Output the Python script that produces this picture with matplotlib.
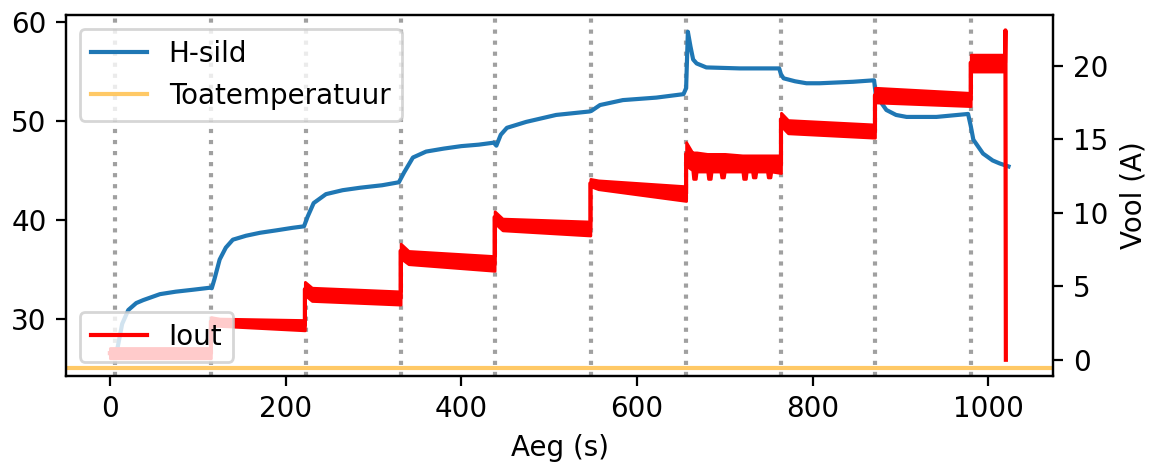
import numpy as np
import matplotlib.pyplot as plt

# temperatuur (H-sild)
aeg_h = [6, 9, 14, 21, 30, 38, 57, 75, 95, 114, 116, 119, 125, 132, 140, 155, 171, 190, 208, 221,
         225, 232, 246, 265, 285, 310, 329, 335, 345, 360, 380, 400, 420, 437, 440, 445, 452,
         474, 508, 546, 548, 558, 584, 622, 653, 656, 658, 661, 664, 668, 679, 717, 762, 764,
         767, 780, 793, 808, 846, 870, 872, 884, 895, 907, 941, 977, 980, 983, 994, 1005, 1013, 1023]
T_h = [26.3, 27.2, 29.5, 30.9, 31.6, 31.9, 32.5, 32.75, 32.95, 33.15, 33.1, 34.0, 36.0, 37.2, 38.0,
       38.4, 38.7, 38.95, 39.2, 39.35, 40.3, 41.7, 42.6, 43.0, 43.25, 43.5, 43.8, 44.8, 46.3, 46.9,
       47.2, 47.45, 47.6, 47.8, 47.5, 48.6, 49.3, 49.9, 50.6, 50.95, 51.0, 51.6, 52.1, 52.35, 52.7,
       53.3, 59.0, 57.5, 56.2, 55.8, 55.4, 55.3, 55.3, 54.7, 54.3, 54.0, 53.8, 53.8, 53.95, 54.1,
       52.6, 51.1, 50.6, 50.4, 50.4, 50.7, 49.5, 48.1, 46.7, 46.0, 45.7, 45.4]
T_toa = 25

# vool: keskmine ja müra ülemine/alumine piir
aeg_i = [0, 115,
         115, 125, 222,
         222, 230, 331,
         331, 340, 438,
         438, 447, 547,
         547, 556, 656,
         656, 663, 664, 667, 668, 680, 681, 684, 685, 695, 696, 699, 700,
         720, 721, 724, 725, 731, 732, 735, 736, 748, 749, 752, 753, 764,
         764, 772, 871,
         871, 980,
         980, 1019]
I_lo = [0.1, 0.1,
        2.3, 2.3, 2.0,
        4.4, 4.0, 3.75,
        6.9, 6.5, 6.05,
        9.3, 8.8, 8.45,
        11.8, 11.6, 10.8,
        13.2, 12.9, 12.3, 12.3, 12.8, 12.8, 12.3, 12.3, 12.8, 12.8, 12.4, 12.4, 12.8,
        12.8, 12.3, 12.3, 12.8, 12.8, 12.4, 12.4, 12.8, 12.8, 12.4, 12.4, 12.8, 12.7,
        15.9, 15.4, 15.1,
        17.5, 17.25,
        19.6, 19.6]
I_hi = [0.8, 0.8,
        2.9, 2.8, 2.7,
        5.3, 4.9, 4.65,
        7.9, 7.4, 7.05,
        10.1, 9.6, 9.4,
        12.3, 12.2, 11.8,
        14.8, 14.1, 14.1, 14.1, 14.1, 14.0, 14.0, 14.0, 14.0, 14.0, 14.0, 14.0, 14.0,
        13.9, 13.9, 13.9, 13.9, 13.9, 13.9, 13.9, 13.9, 13.9, 13.9, 13.9, 13.9, 13.9,
        16.8, 16.3, 16.0,
        18.5, 18.15,
        20.75, 20.75]
I_mid = [0.45, 0.45,
         2.6, 2.55, 2.35,
         4.8, 4.45, 4.2,
         7.4, 6.95, 6.55,
         9.7, 9.2, 8.9,
         12.0, 11.9, 11.3,
         14.0, 13.5, 13.5, 13.5, 13.5, 13.4, 13.4, 13.4, 13.4, 13.4, 13.4, 13.4, 13.4,
         13.35, 13.35, 13.35, 13.35, 13.35, 13.35, 13.35, 13.35, 13.3, 13.3, 13.3, 13.3, 13.3,
         16.35, 15.85, 15.55,
         18.0, 17.7,
         20.2, 20.2]
# lõpus hüpe ja väljalülitus
aeg_lopp = [1019, 1019.5, 1020]
I_lopp = [20.2, 22.4, 0.0]

# astmete algused
astmed = [5.7, 115, 223, 331, 438.5, 547.5, 655.5, 763.7, 871, 980]

fig = plt.figure(figsize=(1149/200, 467/200), dpi=200)
ax = fig.add_axes([0.0574, 0.195, 0.8593, 0.773])
ax2 = ax.twinx()

for a in astmed:
    ax.axvline(a, color='gray', linestyle=':', lw=1.5, alpha=0.75)
ax.plot(aeg_h, T_h, color='tab:blue', label='H-sild')
ax.axhline(T_toa, color='orange', alpha=0.6, label='Toatemperatuur')
ax.set_ylim(24.24, 60.7)
ax.set_xlim(-50, 1074)
ax.set_xlabel('Aeg (s)')
ax.legend(loc='upper left')

ax2.fill_between(aeg_i, I_lo, I_hi, color='red', lw=1.0, edgecolor='red')
ax2.plot(aeg_i + aeg_lopp, I_mid + I_lopp, color='red', label='Iout')
ax2.set_ylim(-1.1, 23.45)
ax2.set_ylabel('Vool (A)')
ax2.legend(loc='lower left')

plt.savefig('out.png', dpi=200)
